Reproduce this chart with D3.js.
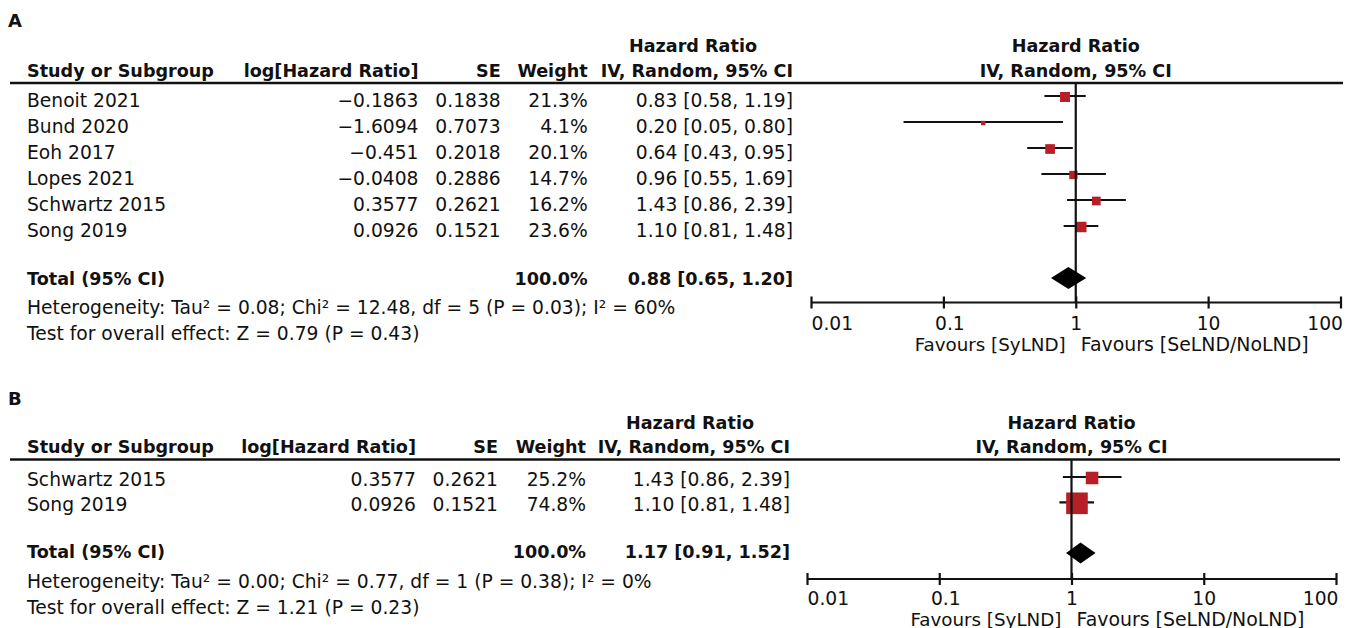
<!DOCTYPE html>
<html>
<head>
<meta charset="utf-8">
<script src="https://cdn.jsdelivr.net/npm/d3@7"></script>
<style>
  html, body { margin: 0; padding: 0; background: #fff; }
  svg text { font-family: "DejaVu Sans", Verdana, sans-serif; fill: #111; }
</style>
</head>
<body>
<svg id="chart" width="1359" height="628"></svg>
<script>
// ---------------- DATA ----------------
const studiesA = ["Benoit 2021", "Bund 2020", "Eoh 2017", "Lopes 2021", "Schwartz 2015", "Song 2019"];
const logHRA   = ["−0.1863", "−1.6094", "−0.451", "−0.0408", "0.3577", "0.0926"];
const seA      = ["0.1838", "0.7073", "0.2018", "0.2886", "0.2621", "0.1521"];
const weightA  = [21.3, 4.1, 20.1, 14.7, 16.2, 23.6];
const hrA      = [0.83, 0.20, 0.64, 0.96, 1.43, 1.10];
const lowerA   = [0.58, 0.05, 0.43, 0.55, 0.86, 0.81];
const upperA   = [1.19, 0.80, 0.95, 1.69, 2.39, 1.48];
const totalA   = [0.88, 0.65, 1.20];
const hetA     = "Heterogeneity: Tau² = 0.08; Chi² = 12.48, df = 5 (P = 0.03); I² = 60%";
const testA    = "Test for overall effect: Z = 0.79 (P = 0.43)";

const studiesB = ["Schwartz 2015", "Song 2019"];
const logHRB   = ["0.3577", "0.0926"];
const seB      = ["0.2621", "0.1521"];
const weightB  = [25.2, 74.8];
const hrB      = [1.43, 1.10];
const lowerB   = [0.86, 0.81];
const upperB   = [2.39, 1.48];
const totalB   = [1.17, 0.91, 1.52];
const hetB     = "Heterogeneity: Tau² = 0.00; Chi² = 0.77, df = 1 (P = 0.38); I² = 0%";
const testB    = "Test for overall effect: Z = 1.21 (P = 0.23)";

const tickValues = [0.01, 0.1, 1, 10, 100];
const tickLabels = ["0.01", "0.1", "1", "10", "100"];
const favLeft  = "Favours [SyLND]";
const favRight = "Favours [SeLND/NoLND]";

// ---------------- LAYOUT ----------------
const RED = "#b71f27";
const FS = 18.7;
const svg = d3.select("#chart");

function fmt(v, d) { return v.toFixed(d); }

function drawPanel(p, L) {
  const g = svg.append("g");
  const x = d3.scaleLog().domain([0.01, 100]).range(L.xRange);
  const nRows = p.studies.length;
  const y = d3.scaleLinear().domain([0, 1]).range([L.rowStart, L.rowStart + L.rowStep]);
  const totalIdx = nRows + 1;
  const side = d3.scaleSqrt().domain([0, 100]).range([0, L.sqMax]);

  // panel label
  g.append("text").attr("x", 8).attr("y", L.labelY)
    .attr("font-size", 18).attr("font-weight", "bold").text(p.label);

  function bold(txt, xx, yy, anchor) {
    return g.append("text").attr("x", xx).attr("y", yy).attr("text-anchor", anchor)
      .attr("font-size", 17.6).attr("font-weight", "bold").text(txt);
  }
  bold("Study or Subgroup", 27, L.headerY, "start");
  bold("log[Hazard Ratio]", L.cols.log, L.headerY, "end");
  bold("SE", L.cols.se, L.headerY, "end");
  bold("Weight", L.cols.wt, L.headerY, "end");
  bold("IV, Random, 95% CI", L.cols.ci, L.headerY, "end");
  bold("Hazard Ratio", L.cols.ci - 100, L.hrHeaderY, "middle");
  const plotMid = (L.xRange[0] + L.xRange[1]) / 2;
  bold("IV, Random, 95% CI", plotMid, L.headerY, "middle");
  bold("Hazard Ratio", plotMid, L.hrHeaderY, "middle");

  // header rule
  g.append("line").attr("x1", L.lineX[0]).attr("x2", L.lineX[1])
    .attr("y1", L.lineY).attr("y2", L.lineY)
    .attr("stroke", "#111").attr("stroke-width", 2.5);

  // rows text
  const rows = d3.range(nRows);
  const rowG = g.selectAll("g.row").data(rows).join("g").attr("class", "row");
  function rowText(fn, xx, anchor) {
    rowG.append("text").attr("x", xx).attr("y", i => y(i) + L.textOff)
      .attr("font-size", FS).attr("text-anchor", anchor).text(fn);
  }
  rowText(i => p.studies[i], 27, "start");
  rowText(i => p.logHR[i], L.cols.log, "end");
  rowText(i => p.se[i], L.cols.se, "end");
  rowText(i => fmt(p.weight[i], 1) + "%", L.cols.wt, "end");
  rowText(i => `${fmt(p.hr[i], 2)} [${fmt(p.lower[i], 2)}, ${fmt(p.upper[i], 2)}]`, L.cols.ci, "end");

  // total row
  const ty = y(totalIdx) + L.totalOff;
  bold("Total (95% CI)", 27, ty, "start");
  bold("100.0%", L.cols.wt, ty, "end");
  bold(`${fmt(p.total[0], 2)} [${fmt(p.total[1], 2)}, ${fmt(p.total[2], 2)}]`, L.cols.ci, ty, "end");

  g.append("text").attr("x", 27).attr("y", L.hetY).attr("font-size", FS).text(p.het);
  g.append("text").attr("x", 27).attr("y", L.testY).attr("font-size", FS).text(p.test);

  // reference line at 1
  g.append("line").attr("x1", x(1)).attr("x2", x(1))
    .attr("y1", L.lineY).attr("y2", L.axisY)
    .attr("stroke", "#111").attr("stroke-width", 2.2);

  // whiskers
  rowG.append("line")
    .attr("x1", i => x(p.lower[i])).attr("x2", i => x(p.upper[i]))
    .attr("y1", i => y(i)).attr("y2", i => y(i))
    .attr("stroke", "#111").attr("stroke-width", 2.2);
  // squares
  rowG.append("rect")
    .attr("x", i => x(p.hr[i]) - side(p.weight[i]) / 2)
    .attr("y", i => y(i) + 1 - side(p.weight[i]) / 2)
    .attr("width", i => side(p.weight[i]))
    .attr("height", i => side(p.weight[i]))
    .attr("fill", RED);

  // diamond
  const dy = y(totalIdx);
  g.append("path")
    .attr("d", `M${x(p.total[1])},${dy} L${x(p.total[0])},${dy - L.dH} L${x(p.total[2])},${dy} L${x(p.total[0])},${dy + L.dH} Z`)
    .attr("fill", "#000");

  // axis
  const axis = d3.axisBottom(x).tickValues(tickValues).tickSize(6).tickFormat((d, i) => tickLabels[i]);
  const ax = g.append("g").attr("transform", `translate(0,${L.axisY})`).call(axis);
  ax.select(".domain").attr("stroke", "#111").attr("stroke-width", 2.2).attr("d", `M${L.xRange[0]},0H${L.xRange[1]}`);
  ax.selectAll(".tick line").attr("y1", -6).attr("y2", 6).attr("stroke", "#111").attr("stroke-width", 2.2);
  ax.selectAll(".tick text")
    .attr("y", L.tickLabelY - L.axisY).attr("dy", 0)
    .attr("font-size", FS).attr("font-family", "DejaVu Sans").attr("fill", "#111")
    .attr("text-anchor", (d, i) => i === 0 ? "start" : (i === tickValues.length - 1 ? "end" : "middle"))
    .attr("x", (d, i) => i === 0 ? 0 : (i === tickValues.length - 1 ? 2 : (i === 1 ? 6 : 0)));

  g.append("text").attr("x", x(1) - 10).attr("y", L.favY).attr("font-size", 18.3)
    .attr("text-anchor", "end").text(favLeft);
  g.append("text").attr("x", x(1) + 5).attr("y", L.favY).attr("font-size", 18.9)
    .attr("text-anchor", "start").text(favRight);
}

drawPanel(
  { label: "A", studies: studiesA, logHR: logHRA, se: seA, weight: weightA, hr: hrA,
    lower: lowerA, upper: upperA, total: totalA, het: hetA, test: testA },
  { labelY: 26.5, hrHeaderY: 51.5, headerY: 76.7, lineY: 83, lineX: [10, 1343],
    rowStart: 96, rowStep: 26, textOff: 10.5, totalOff: 6.8,
    axisY: 302.5, xRange: [811, 1340.5], sqMax: 21.6, dH: 11,
    cols: { log: 418.5, se: 500.7, wt: 587.7, ci: 793 },
    hetY: 314, testY: 340, tickLabelY: 330, favY: 351 }
);

drawPanel(
  { label: "B", studies: studiesB, logHR: logHRB, se: seB, weight: weightB, hr: hrB,
    lower: lowerB, upper: upperB, total: totalB, het: hetB, test: testB },
  { labelY: 405, hrHeaderY: 429, headerY: 453, lineY: 459.5, lineX: [10, 1340],
    rowStart: 477, rowStep: 25.3, textOff: 9, totalOff: 5,
    axisY: 579, xRange: [807, 1336], sqMax: 25, dH: 10.5,
    cols: { log: 416, se: 498, wt: 586, ci: 790 },
    hetY: 587.5, testY: 613.5, tickLabelY: 604.5, favY: 625.5 }
);
</script>
</body>
</html>
